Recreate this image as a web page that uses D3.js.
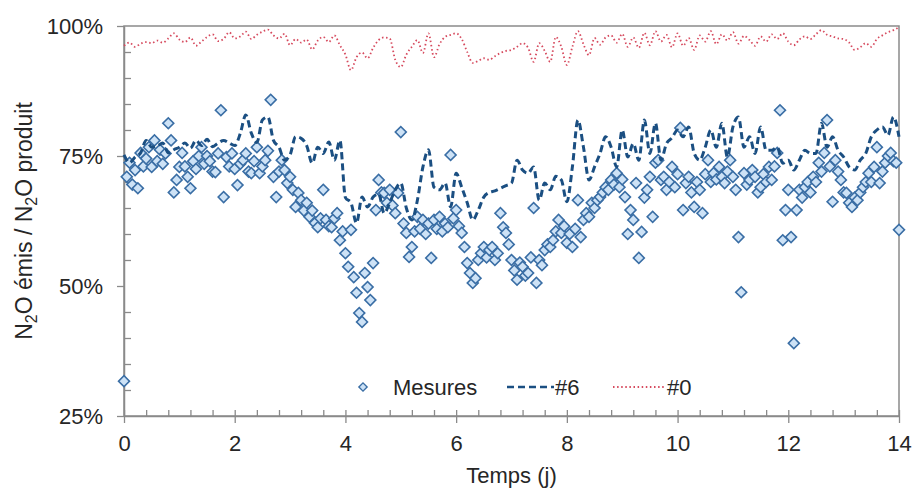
<!DOCTYPE html>
<html>
<head>
<meta charset="utf-8">
<script src="https://cdn.jsdelivr.net/npm/d3@7"></script>
<style>
  body { margin: 0; background: #fff; }
  svg { font-family: "Liberation Sans", Arial, sans-serif; }
</style>
</head>
<body>
<svg id="chart" width="914" height="490"></svg>
<script>
// pas de temps (jours)
const stepModel = 0.1;
const stepMes = 0.05;

const xTicks = [0, 2, 4, 6, 8, 10, 12, 14];
const yTicks = [25, 50, 75, 100];

// modele #0 (%), un point tous les 0.1 j
const model0 = [
  96.2, 96.8, 96.0, 96.6, 96.9, 96.7, 97.2, 96.8, 97.6, 98.6,
  97.4, 96.9, 97.8, 96.2, 97.0, 97.9, 98.4, 97.1, 97.5, 98.8,
  97.6, 98.0, 98.9, 97.5, 98.3, 98.9, 99.3, 98.2, 97.6, 98.5,
  96.3, 97.5, 96.8, 97.4, 95.5, 97.2, 97.9, 96.9, 98.2, 96.3,
  94.5, 91.5, 94.0, 94.9, 93.8, 95.8, 97.3, 97.8, 97.6, 93.5,
  92.1, 94.5, 96.0, 97.3, 94.8, 98.6, 94.0, 96.5, 97.9, 98.3,
  98.6, 97.5, 95.0, 92.9, 93.3, 93.8, 93.5, 94.2, 94.8, 95.2,
  95.4, 96.0, 96.7, 95.8, 93.1, 96.7, 95.2, 93.1, 97.9, 96.0,
  92.5, 96.0, 99.0, 96.5, 94.4, 97.7, 96.4, 97.8, 98.2, 96.8,
  98.5, 96.0, 97.8, 95.8, 98.7, 96.3, 99.0, 97.0, 98.3, 95.9,
  98.6, 96.2, 97.7, 95.4, 98.2, 97.0, 99.0, 96.5, 98.4, 97.2,
  98.8, 96.6, 98.1, 97.3, 96.2, 98.0, 97.0, 98.4, 97.5, 98.6,
  97.0, 96.3, 97.4, 98.0, 97.5, 98.4, 99.2, 98.3, 98.0, 97.6,
  97.5, 96.8, 95.4, 95.9, 96.7, 96.0, 97.5, 98.2, 98.8, 99.2,
  99.8
];

// modele #6 (%), un point tous les 0.1 j
const model6 = [
  75.2, 73.7, 74.8, 75.6, 78.0, 76.7, 76.9, 77.5, 75.6, 76.2,
  76.7, 77.5, 76.5, 78.0, 77.0, 78.2, 76.8, 77.5, 78.0, 77.5,
  77.0, 79.3, 82.9, 79.4, 77.6, 81.9, 82.5, 78.0, 76.7, 74.2,
  75.2, 78.7, 78.4, 77.0, 73.6, 76.7, 75.5, 77.7, 74.2, 78.0,
  67.0, 66.0, 62.1, 67.1, 65.2, 67.1, 67.7, 64.0, 66.0, 68.5,
  69.8, 65.0, 62.7, 66.5, 72.9, 76.2, 69.0, 68.5, 69.8, 65.2,
  71.7, 69.0, 66.0, 62.7, 64.6, 67.1, 68.0, 68.3, 68.8, 69.3,
  69.8, 74.2, 72.3, 71.7, 72.9, 66.5, 69.8, 68.5, 71.1, 70.4,
  66.2, 72.9, 81.9, 76.7, 70.4, 72.9, 75.5, 78.7, 76.7, 72.9,
  80.0, 74.8, 77.4, 74.2, 81.9, 75.5, 81.3, 74.2, 77.4, 78.5,
  80.0, 78.7, 80.6, 75.5, 74.2, 76.7, 80.0, 76.7, 81.3, 74.8,
  80.6, 82.5, 76.7, 78.7, 75.5, 80.6, 76.1, 76.1, 76.7, 73.6,
  74.2, 72.3, 74.2, 76.1, 75.5, 75.5, 81.3, 76.7, 78.7, 76.1,
  74.8, 72.9, 72.3, 74.2, 75.5, 78.7, 80.0, 80.6, 79.0, 82.5,
  78.7
];

// mesures (%), un point tous les 0.05 j
const mesures = [
  31.7, 71.0, 73.7, 69.5, 72.3, 68.8, 75.6, 73.0, 74.5, 76.7, 72.9, 78.0, 74.0, 76.2, 73.5, 75.5, 81.3, 78.0, 68.0, 70.4,
  72.9, 75.6, 73.0, 71.0, 68.8, 74.0, 72.5, 75.0, 76.7, 73.5, 75.0, 74.0, 72.0, 71.9, 75.5, 83.8, 67.1, 74.8, 73.0, 75.5,
  72.5, 69.4, 73.5, 74.2, 75.5, 72.0, 71.7, 74.0, 76.7, 71.7, 73.0, 74.2, 76.0, 85.8, 71.0, 67.1, 72.0, 74.2, 72.3, 69.8,
  71.0, 68.5, 65.2, 67.9, 66.5, 64.5, 66.0, 63.3, 64.5, 62.1, 61.3, 63.0, 68.5, 62.7, 61.5, 61.3, 63.0, 64.0, 58.8, 60.5,
  56.3, 53.7, 60.8, 51.7, 48.7, 44.8, 43.1, 52.5, 49.8, 47.3, 54.4, 64.6, 70.4, 68.0, 67.9, 66.0, 68.5, 65.5, 64.0, 67.9,
  79.6, 62.0, 60.2, 55.6, 57.5, 60.5, 63.3, 61.0, 62.7, 60.0, 62.0, 55.4, 62.7, 61.0, 63.3, 60.5, 62.0, 61.3, 75.2, 63.0,
  64.6, 61.5, 60.2, 57.5, 54.4, 52.5, 50.6, 51.5, 55.0, 56.3, 57.5, 55.5, 56.9, 57.5, 55.0, 56.3, 64.0, 61.3, 60.2, 58.0,
  55.0, 53.0, 51.2, 54.5, 53.7, 52.0, 52.5, 55.5, 65.0, 50.6, 55.0, 54.0, 56.9, 58.0, 57.5, 58.8, 60.5, 62.7, 60.2, 61.5,
  58.3, 60.0, 57.5, 61.0, 66.5, 59.4, 62.7, 64.0, 63.3, 66.0, 65.0, 66.5, 67.1, 68.0, 69.0, 68.5, 70.4, 69.5, 71.7, 69.0,
  70.5, 67.1, 60.0, 64.6, 62.7, 69.8, 55.4, 60.4, 67.0, 68.5, 71.0, 63.3, 73.7, 74.2, 70.4, 71.0, 68.5, 70.0, 72.9, 69.0,
  71.5, 80.4, 64.6, 69.8, 71.0, 68.0, 65.2, 70.0, 68.5, 64.0, 71.5, 74.2, 70.0, 71.7, 70.5, 72.9, 71.0, 69.8, 72.0, 74.2,
  71.0, 68.5, 59.4, 48.8, 71.7, 69.5, 70.4, 72.3, 71.0, 68.0, 69.0, 71.5, 70.0, 72.9, 70.4, 73.0, 75.6, 83.8, 58.8, 64.6,
  68.5, 59.4, 39.0, 64.6, 68.5, 67.0, 69.0, 70.0, 68.0, 71.0, 70.0, 73.7, 72.0, 75.6, 81.9, 73.0, 66.2, 74.2, 72.0, 70.4,
  68.0, 67.9, 66.0, 65.2, 67.0, 66.5, 68.0, 69.0, 70.0, 71.7, 70.0, 72.9, 76.7, 69.8, 72.0, 73.7, 75.0, 75.6, 74.0, 73.7,
  60.8
];

const svg = d3.select("#chart");

const margin = { top: 26, right: 15, bottom: 74, left: 124 };
const width = +svg.attr("width");
const height = +svg.attr("height");

const xScale = d3.scaleLinear().domain([0, 14]).range([margin.left, width - margin.right]);
const yScale = d3.scaleLinear().domain([25, 100]).range([height - margin.bottom, margin.top]);

const axisColor = "#8a8a8a";
const textColor = "#262626";
const blue = "#1b4f82";
const red = "#d64a5e";

// cadre
svg.append("rect")
  .attr("x", xScale(0))
  .attr("y", yScale(100))
  .attr("width", xScale(14) - xScale(0))
  .attr("height", yScale(25) - yScale(100))
  .attr("fill", "none")
  .attr("stroke", axisColor)
  .attr("stroke-width", 1.5);

// graduations secondaires
const minorY = d3.range(5, 100, 5).map((d) => d + 25).filter((d) => d < 100 && d % 25 !== 0);
svg.append("g")
  .attr("transform", "translate(" + xScale(0) + ",0)")
  .call(d3.axisLeft(yScale).tickValues(minorY).tickSize(-7).tickFormat(""))
  .call((g) => g.select(".domain").remove())
  .selectAll("line").attr("stroke", axisColor).attr("stroke-width", 1.3);

const minorX = d3.range(0, 36).map((i) => i * 0.4);
svg.append("g")
  .attr("transform", "translate(0," + yScale(25) + ")")
  .call(d3.axisBottom(xScale).tickValues(minorX).tickSize(-6).tickFormat(""))
  .call((g) => g.select(".domain").remove())
  .selectAll("line").attr("stroke", axisColor).attr("stroke-width", 1.3);

// axes principaux
const yAxis = svg.append("g")
  .attr("transform", "translate(" + xScale(0) + ",0)")
  .call(d3.axisLeft(yScale).tickValues(yTicks).tickSizeInner(7).tickSizeOuter(0).tickPadding(14).tickFormat((d) => d + "%"));
yAxis.select(".domain").attr("stroke", axisColor).attr("stroke-width", 1.5);
yAxis.selectAll("line").attr("stroke", axisColor).attr("stroke-width", 1.3);
yAxis.selectAll("text").attr("fill", textColor).style("font-size", "22px");

const xAxis = svg.append("g")
  .attr("transform", "translate(0," + yScale(25) + ")")
  .call(d3.axisBottom(xScale).tickValues(xTicks).tickSizeInner(7).tickSizeOuter(0).tickPadding(12));
xAxis.select(".domain").attr("stroke", axisColor).attr("stroke-width", 1.5);
xAxis.selectAll("line").attr("stroke", axisColor).attr("stroke-width", 1.3);
xAxis.selectAll("text").attr("fill", textColor).style("font-size", "22px");

// mesures
const diamond = d3.symbol().type(d3.symbolSquare).size(60);
svg.append("g")
  .selectAll("path")
  .data(mesures)
  .join("path")
  .attr("d", diamond)
  .attr("transform", (d, i) => "translate(" + xScale(i * stepMes) + "," + yScale(d) + ") rotate(45)")
  .attr("fill", "#cde2f6")
  .attr("stroke", "#3a6ea5")
  .attr("stroke-width", 1.6);

// modeles
const line = d3.line()
  .x((d, i) => xScale(i * stepModel))
  .y((d) => yScale(d))
  .curve(d3.curveMonotoneX);

svg.append("path")
  .datum(model6)
  .attr("d", line)
  .attr("fill", "none")
  .attr("stroke", blue)
  .attr("stroke-width", 3)
  .attr("stroke-dasharray", "7,4");

svg.append("path")
  .datum(model0)
  .attr("d", line)
  .attr("fill", "none")
  .attr("stroke", red)
  .attr("stroke-width", 1.8)
  .attr("stroke-dasharray", "1.5,2.6");

// titres des axes
svg.append("text")
  .attr("x", (xScale(0) + xScale(14)) / 2)
  .attr("y", 483)
  .attr("text-anchor", "middle")
  .attr("fill", textColor)
  .style("font-size", "22px")
  .text("Temps (j)");

const yTitle = svg.append("text")
  .attr("transform", "translate(32," + (yScale(25) + yScale(100)) / 2 + ") rotate(-90)")
  .attr("text-anchor", "middle")
  .attr("fill", textColor)
  .style("font-size", "23px");
yTitle.append("tspan").text("N");
yTitle.append("tspan").attr("dy", 5).style("font-size", "16px").text("2");
yTitle.append("tspan").attr("dy", -5).text("O émis / N");
yTitle.append("tspan").attr("dy", 5).style("font-size", "16px").text("2");
yTitle.append("tspan").attr("dy", -5).text("O produit");

// legende
const legY = 387;
svg.append("path")
  .attr("d", d3.symbol().type(d3.symbolSquare).size(34))
  .attr("transform", "translate(363," + legY + ") rotate(45)")
  .attr("fill", "#cde2f6")
  .attr("stroke", "#3a6ea5")
  .attr("stroke-width", 1.4);
svg.append("text").attr("x", 393).attr("y", legY + 8).attr("fill", textColor)
  .style("font-size", "22px").text("Mesures");

svg.append("line").attr("x1", 507).attr("x2", 554).attr("y1", legY).attr("y2", legY)
  .attr("stroke", blue).attr("stroke-width", 2.5).attr("stroke-dasharray", "7,4");
svg.append("text").attr("x", 555).attr("y", legY + 8).attr("fill", textColor)
  .style("font-size", "22px").text("#6");

svg.append("line").attr("x1", 613).attr("x2", 664).attr("y1", legY).attr("y2", legY)
  .attr("stroke", red).attr("stroke-width", 1.8).attr("stroke-dasharray", "1.5,2.6");
svg.append("text").attr("x", 667).attr("y", legY + 8).attr("fill", textColor)
  .style("font-size", "22px").text("#0");
</script>
</body>
</html>
